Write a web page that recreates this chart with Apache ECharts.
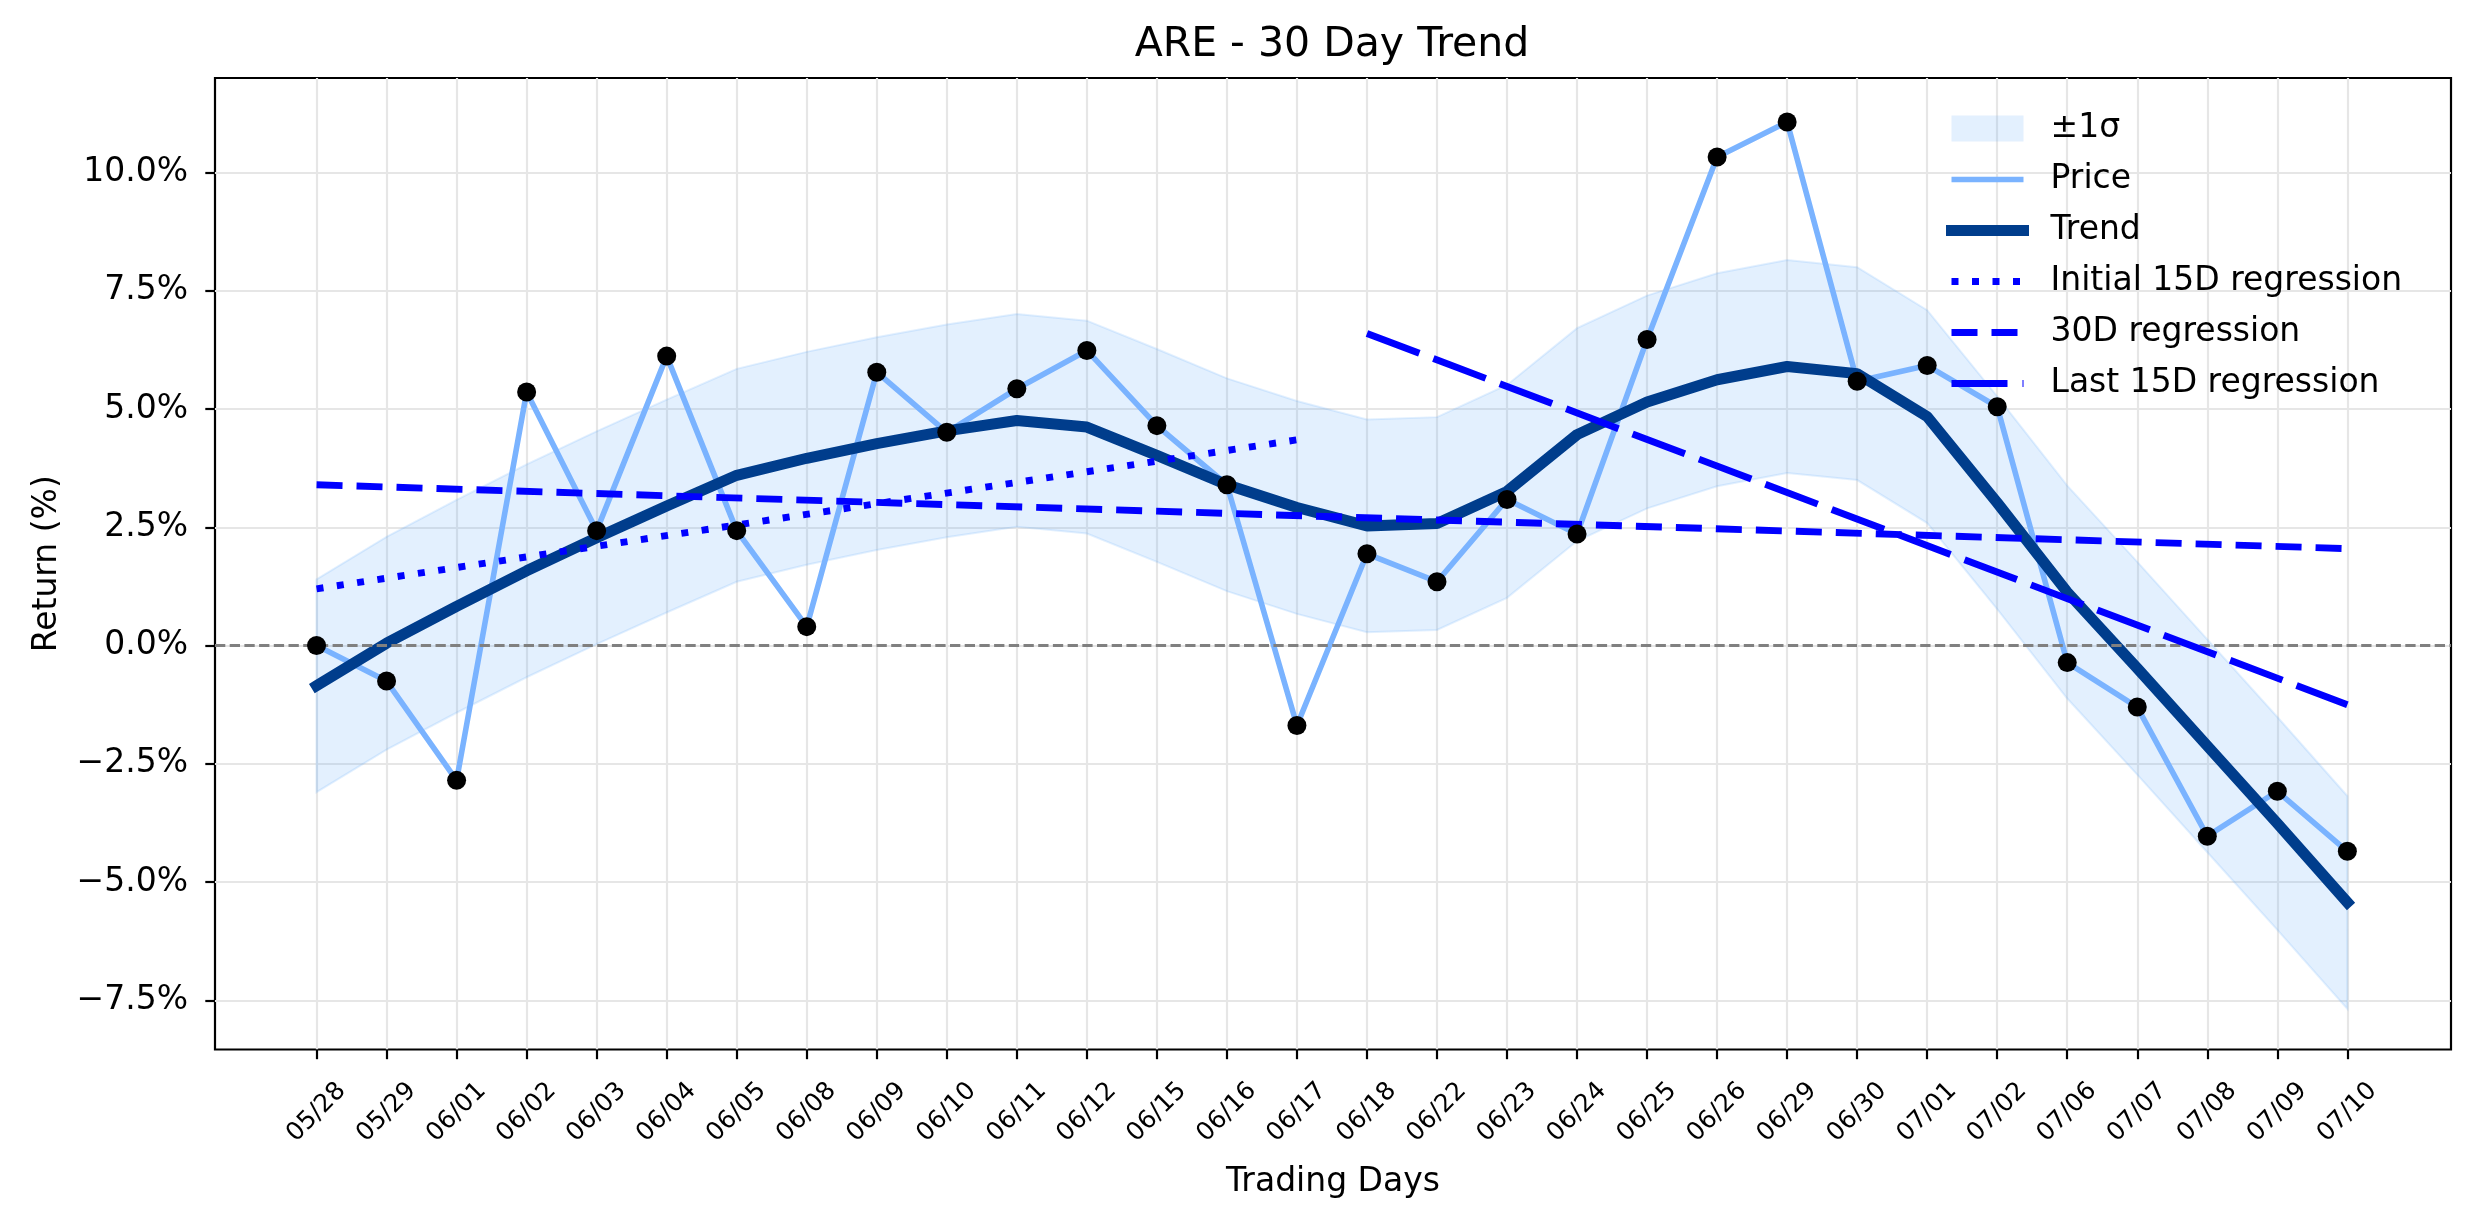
<!DOCTYPE html>
<html>
<head>
<meta charset="utf-8">
<title>ARE - 30 Day Trend</title>
<script src="https://cdn.jsdelivr.net/npm/echarts@6/dist/echarts.min.js"></script>
<style>
html, body { margin: 0; padding: 0; background: #fff; }
#chart { width: 2474px; height: 1224px; }
</style>
</head>
<body>
<div id="chart"></div>
<script>
// trading days on the x axis
var dayLabels = ['05/28', '05/29', '06/01', '06/02', '06/03', '06/04', '06/05', '06/08', '06/09', '06/10',
	'06/11', '06/12', '06/15', '06/16', '06/17', '06/18', '06/22', '06/23', '06/24', '06/25',
	'06/26', '06/29', '06/30', '07/01', '07/02', '07/06', '07/07', '07/08', '07/09', '07/10'];

// cumulative return in %
var priceReturns = [0.00, -0.75, -2.85, 5.36, 2.43, 6.12, 2.43, 0.40, 5.78, 4.51,
	5.43, 6.24, 4.65, 3.40, -1.69, 1.94, 1.35, 3.09, 2.36, 6.47,
	10.33, 11.07, 5.59, 5.92, 5.05, -0.36, -1.30, -4.03, -3.08, -4.35];

var trendReturns = [-0.85, 0.05, 0.83, 1.58, 2.28, 2.95, 3.60, 3.96, 4.27, 4.54,
	4.76, 4.62, 4.02, 3.40, 2.92, 2.53, 2.58, 3.26, 4.46, 5.15,
	5.62, 5.90, 5.75, 4.84, 3.02, 1.13, -0.48, -2.12, -3.76, -5.43];

// +/- 1 sigma band
var bandUpper = [1.40, 2.30, 3.08, 3.83, 4.53, 5.20, 5.85, 6.21, 6.52, 6.79,
	7.01, 6.87, 6.27, 5.65, 5.17, 4.78, 4.83, 5.51, 6.71, 7.40,
	7.87, 8.15, 8.00, 7.09, 5.27, 3.38, 1.77, 0.13, -1.51, -3.18];
var bandLower = [-3.10, -2.20, -1.42, -0.67, 0.03, 0.70, 1.35, 1.71, 2.02, 2.29,
	2.51, 2.37, 1.77, 1.15, 0.67, 0.28, 0.33, 1.01, 2.21, 2.90,
	3.37, 3.65, 3.50, 2.59, 0.77, -1.12, -2.73, -4.37, -6.01, -7.68];

// regression lines (day index, return %)
var initialRegX = [0, 14];
var initialRegY = [1.20, 4.35];
var fullRegX = [0, 29];
var fullRegY = [3.40, 2.05];
var lastRegX = [15, 29];
var lastRegY = [6.60, -1.25];

var yTickValues = [-7.5, -5, -2.5, 0, 2.5, 5, 7.5, 10];
var xTickValues = dayLabels.map(function(d, i) { return i; });

var fontName = 'DejaVu Sans';
var gridColor = '#e6e6e6';

function pairs(xs, ys) {
	return xs.map(function(x, i) { return [x, ys[i]]; });
}

function formatPct(v) {
	var s = Math.abs(v).toFixed(1) + '%';
	return v < 0 ? '\u2212' + s : s;
}

var myChart = echarts.init(document.getElementById('chart'));

var option = {
	animation: false,
	backgroundColor: '#fff',
	graphic: [{
		type: 'text',
		x: 1332,
		y: 45,
		style: {
			text: 'ARE - 30 Day Trend',
			font: '41px "' + fontName + '"',
			fill: '#000',
			textAlign: 'center',
			textVerticalAlign: 'middle'
		}
	}],
	grid: {
		left: 215,
		right: 23,
		top: 78,
		bottom: 174.5,
		show: true,
		borderColor: '#000',
		borderWidth: 2.2,
		backgroundColor: 'transparent'
	},
	legend: {
		orient: 'vertical',
		left: 1946,
		top: 112,
		padding: 0,
		itemWidth: 72,
		itemHeight: 26,
		itemGap: 18,
		selectedMode: false,
		textStyle: { fontFamily: fontName, fontSize: 33, color: '#000', padding: [0, 0, 0, 22] },
		itemStyle: { opacity: 0 },
		lineStyle: { width: 'inherit' },
		data: [
			{ name: '\u00b11\u03c3', icon: 'rect', itemStyle: { opacity: 1 } },
			'Price', 'Trend', 'Initial 15D regression', '30D regression', 'Last 15D regression'
		]
	},
	xAxis: {
		type: 'value',
		min: -1.45,
		max: 30.48,
		name: 'Trading Days',
		nameLocation: 'middle',
		nameGap: 116,
		nameTextStyle: { fontFamily: fontName, fontSize: 33, color: '#000' },
		axisLine: { show: false, onZero: false },
		axisTick: {
			customValues: xTickValues,
			length: 9.7,
			lineStyle: { color: '#000', width: 2.2 }
		},
		axisLabel: {
			customValues: xTickValues,
			rotate: 45,
			align: 'center',
			verticalAlign: 'middle',
			margin: 63,
			fontFamily: fontName,
			fontSize: 25,
			color: '#000',
			formatter: function(v) { return dayLabels[v]; }
		},
		splitLine: { show: true, lineStyle: { color: gridColor, width: 2.2 } }
	},
	yAxis: {
		type: 'value',
		min: -8.54,
		max: 12.0,
		name: 'Return (%)',
		nameLocation: 'middle',
		nameGap: 151,
		nameTextStyle: { fontFamily: fontName, fontSize: 33, color: '#000' },
		axisLine: { show: false, onZero: false },
		axisTick: {
			show: true,
			customValues: yTickValues,
			length: 9.7,
			lineStyle: { color: '#000', width: 2.2 }
		},
		axisLabel: {
			customValues: yTickValues,
			margin: 27,
			fontFamily: fontName,
			fontSize: 33,
			color: '#000',
			formatter: formatPct
		},
		splitLine: { show: true, lineStyle: { color: gridColor, width: 2.2 } }
	},
	series: [
		{
			name: '\u00b11\u03c3',
			type: 'custom',
			z: 1,
			silent: true,
			itemStyle: { color: 'rgba(100,170,250,0.18)' },
			encode: { x: 0, y: [1, 2] },
			data: bandLower.map(function(v, i) { return [i, v, bandUpper[i]]; }),
			renderItem: function(params, api) {
				if (params.dataIndex !== 0) {
					return null;
				}
				var pts = [];
				for (var i = 0; i < bandUpper.length; i++) {
					pts.push(api.coord([i, bandUpper[i]]));
				}
				for (var j = bandLower.length - 1; j >= 0; j--) {
					pts.push(api.coord([j, bandLower[j]]));
				}
				return {
					type: 'polygon',
					shape: { points: pts },
					style: { fill: 'rgba(100,170,250,0.18)', stroke: 'rgba(100,170,250,0.18)', lineWidth: 2 }
				};
			}
		},
		{
			name: 'Price',
			type: 'line',
			z: 3,
			symbol: 'none',
			data: pairs(xTickValues, priceReturns),
			lineStyle: { color: '#7ab3ff', width: 5.6 },
			itemStyle: { color: '#7ab3ff' },
			markLine: {
				silent: true,
				symbol: 'none',
				label: { show: false },
				lineStyle: { color: '#808080', width: 2.8, type: [10.3, 4.4] },
				data: [{ yAxis: 0 }]
			}
		},
		{
			name: 'Trend',
			type: 'line',
			z: 4,
			symbol: 'none',
			data: pairs(xTickValues, trendReturns),
			lineStyle: { color: '#003d8c', width: 11, cap: 'square' },
			itemStyle: { color: '#003d8c' }
		},
		{
			name: 'Initial 15D regression',
			type: 'line',
			z: 5,
			symbol: 'none',
			data: pairs(initialRegX, initialRegY),
			lineStyle: { color: '#0000ff', width: 6.9, type: [7, 13.5] },
			itemStyle: { color: '#0000ff' }
		},
		{
			name: '30D regression',
			type: 'line',
			z: 5,
			symbol: 'none',
			data: pairs(fullRegX, fullRegY),
			lineStyle: { color: '#0000ff', width: 6.9, type: [26, 14] },
			itemStyle: { color: '#0000ff' }
		},
		{
			name: 'Last 15D regression',
			type: 'line',
			z: 5,
			symbol: 'none',
			data: pairs(lastRegX, lastRegY),
			lineStyle: { color: '#0000ff', width: 6.9, type: [56, 15] },
			itemStyle: { color: '#0000ff' }
		},
		{
			name: 'points',
			type: 'scatter',
			z: 6,
			silent: true,
			symbolSize: 19,
			itemStyle: { color: '#000', opacity: 1 },
			data: pairs(xTickValues, priceReturns)
		}
	]
};

myChart.setOption(option);
</script>
</body>
</html>
